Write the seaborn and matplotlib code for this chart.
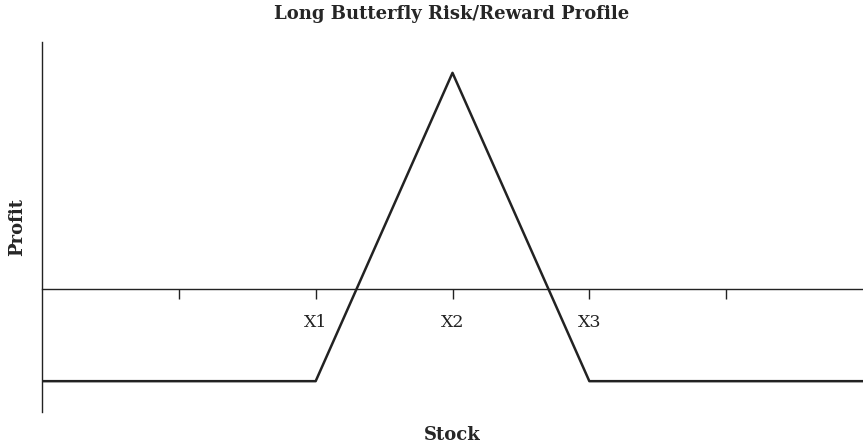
import numpy as np
import pandas as pd
import matplotlib
matplotlib.use("Agg")
import matplotlib.pyplot as plt
import seaborn as sns

# payoff profile (stock position, profit)
stock = [0, 2, 3, 4, 6]
profit = [-3, -3, 7, -3, -3]
tick_pos = [1, 2, 3, 4, 5]
tick_labels = ["", "X1", "X2", "X3", ""]

sns.set_style("ticks")
plt.rcParams["font.family"] = ["DejaVu Serif"]

df = pd.DataFrame({"Stock": stock, "Profit": profit})

fig = plt.figure(figsize=(8.63, 4.44), dpi=100)
ax = fig.add_axes([42 / 863, 32 / 444, 821 / 863, 370 / 444])

sns.lineplot(data=df, x="Stock", y="Profit", ax=ax, color="#222222", linewidth=1.8)

ax.set_xlim(0, 6)
ax.set_ylim(-4, 8)
ax.spines["right"].set_visible(False)
ax.spines["top"].set_visible(False)
ax.spines["bottom"].set_position(("data", 0))
ax.spines["bottom"].set_color("#222222")
ax.spines["left"].set_color("#222222")
ax.spines["bottom"].set_linewidth(1.0)
ax.spines["left"].set_linewidth(1.0)

ax.set_xticks(tick_pos)
ax.set_xticklabels(tick_labels, fontsize=12.5)
ax.tick_params(axis="x", direction="out", length=7, width=1.0, pad=11, colors="#222222")
ax.set_yticks([])

ax.set_xlabel("")
ax.set_ylabel("")
fig.text(452 / 863, 1 - 14 / 444, "Long Butterfly Risk/Reward Profile",
         ha="center", va="center", fontsize=13, fontweight="bold")
fig.text(452 / 863, 1 - 435 / 444, "Stock", ha="center", va="center",
         fontsize=13, fontweight="bold")
fig.text(17 / 863, 1 - 227 / 444, "Profit", ha="center", va="center",
         rotation=90, fontsize=13, fontweight="bold")

fig.savefig("out.png", dpi=100)
